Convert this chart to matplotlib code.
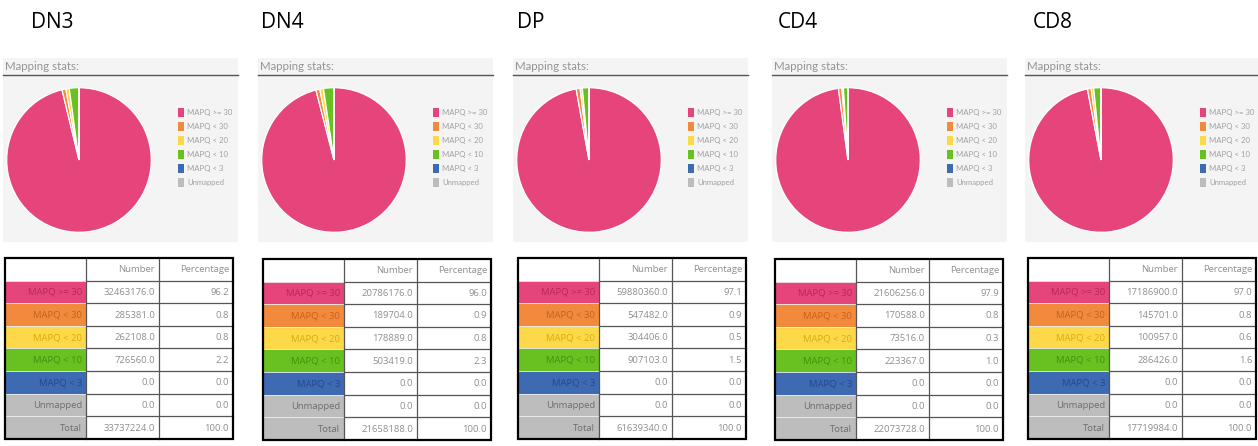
import matplotlib
matplotlib.use("Agg")
import matplotlib.pyplot as plt
from matplotlib.patches import Rectangle

W, H = 1258, 446

samples = ["DN3", "DN4", "DP", "CD4", "CD8"]
categories = ["MAPQ >= 30", "MAPQ < 30", "MAPQ < 20", "MAPQ < 10", "MAPQ < 3", "Unmapped"]
numbers = {
    "DN3": [32463176.0, 285381.0, 262108.0, 726560.0, 0.0, 0.0],
    "DN4": [20786176.0, 189704.0, 178889.0, 503419.0, 0.0, 0.0],
    "DP":  [59880360.0, 547482.0, 304406.0, 907103.0, 0.0, 0.0],
    "CD4": [21606256.0, 170588.0, 73516.0, 223367.0, 0.0, 0.0],
    "CD8": [17186900.0, 145701.0, 100957.0, 286426.0, 0.0, 0.0],
}
percentages = {
    "DN3": [96.2, 0.8, 0.8, 2.2, 0.0, 0.0],
    "DN4": [96.0, 0.9, 0.8, 2.3, 0.0, 0.0],
    "DP":  [97.1, 0.9, 0.5, 1.5, 0.0, 0.0],
    "CD4": [97.9, 0.8, 0.3, 1.0, 0.0, 0.0],
    "CD8": [97.0, 0.8, 0.6, 1.6, 0.0, 0.0],
}
totals = {"DN3": 33737224.0, "DN4": 21658188.0, "DP": 61639340.0,
          "CD4": 22073728.0, "CD8": 17719984.0}
header = ["", "Number", "Percentage"]

colors = ["#e5457a", "#f28a3e", "#fdd848", "#68c021", "#3d6ab3", "#bdbdbd"]
text_cols = ["#b8285a", "#c4621c", "#d8ac10", "#3d9410", "#22488e", "#6e6e6e"]

# layout (pixel units)
panel_x = [3, 258, 513, 772, 1025]
title_x = [31, 261, 517, 778, 1033]
table_x = [5, 263, 518, 775, 1028]
table_y = [258, 259, 258, 259, 258]
col_w = [81, 73, 74]
row_h = 22.6
panel_w = 235

fig = plt.figure(figsize=(W / 100, H / 100), dpi=100)
fig.patch.set_facecolor("white")
ax = fig.add_axes([0, 0, 1, 1])
ax.set_xlim(0, W)
ax.set_ylim(H, 0)
ax.axis("off")

FONT = "Open Sans"

for i, s in enumerate(samples):
    px = panel_x[i]
    # title
    ax.text(title_x[i], 23, s, fontsize=15, family=FONT, color="black",
            va="center", ha="left")
    # gray panel
    ax.add_patch(Rectangle((px, 58), panel_w, 184, facecolor="#f4f4f4",
                           edgecolor="none", zorder=0))
    ax.text(px + 2, 67, "Mapping stats:", fontsize=8.3, family="Lato",
            color="#959595", va="center", ha="left")
    ax.plot([px, px + panel_w], [75, 75], color="#555555", lw=1.0)

    # pie
    cx, cy, r = px + 76, 160, 73
    pax = fig.add_axes([(cx - r) / W, 1 - (cy + r) / H, 2 * r / W, 2 * r / H])
    pax.pie(numbers[s], colors=colors, startangle=90, counterclock=False,
            wedgeprops=dict(edgecolor="white", linewidth=0.9))
    pax.set_xlim(-1.01, 1.01)
    pax.set_ylim(-1.01, 1.01)
    pax.axis("off")

    # legend
    for k, c in enumerate(categories):
        ly = 112 + k * 14
        ax.add_patch(Rectangle((px + 175, ly - 4.5), 5.5, 9, facecolor=colors[k],
                               edgecolor="none"))
        ax.text(px + 184, ly, c, fontsize=5.6, family="Lato", color="#a0a0a0",
                va="center", ha="left")

    # table
    tx, ty = table_x[i], table_y[i]
    xs = [tx, tx + col_w[0], tx + col_w[0] + col_w[1], tx + sum(col_w)]
    rows = [header]
    for k, c in enumerate(categories):
        rows.append([c, f"{numbers[s][k]:.1f}", f"{percentages[s][k]:.1f}"])
    rows.append(["Total", f"{totals[s]:.1f}", "100.0"])
    for j, row in enumerate(rows):
        y0 = ty + j * row_h
        if 1 <= j <= 6:
            fc, tc = colors[j - 1], text_cols[j - 1]
        elif j == 7:
            fc, tc = "#bdbdbd", "#6e6e6e"
        else:
            fc, tc = "white", "#777777"
        ax.add_patch(Rectangle((xs[0], y0), col_w[0], row_h, facecolor=fc,
                               edgecolor="none", zorder=1))
        for m in range(3):
            col = tc if m == 0 else "#8f8f8f"
            ax.text(xs[m + 1] - 4, y0 + row_h / 2 + 0.5, row[m], fontsize=6.8,
                    family=FONT, color=col, va="center", ha="right", zorder=3)
        if j > 0:
            ax.plot([xs[1], xs[3]], [y0, y0], color="#555555", lw=0.9, zorder=2)
            ax.plot([xs[0], xs[1]], [y0, y0], color="#f0f0f0", lw=0.6, zorder=2)
    ybot = ty + len(rows) * row_h
    for m in (1, 2):
        ax.plot([xs[m], xs[m]], [ty, ybot], color="#555555", lw=0.9, zorder=2)
    ax.add_patch(Rectangle((xs[0], ty), sum(col_w), ybot - ty, facecolor="none",
                           edgecolor="black", lw=1.6, zorder=4))

fig.savefig("out.png", dpi=100)
